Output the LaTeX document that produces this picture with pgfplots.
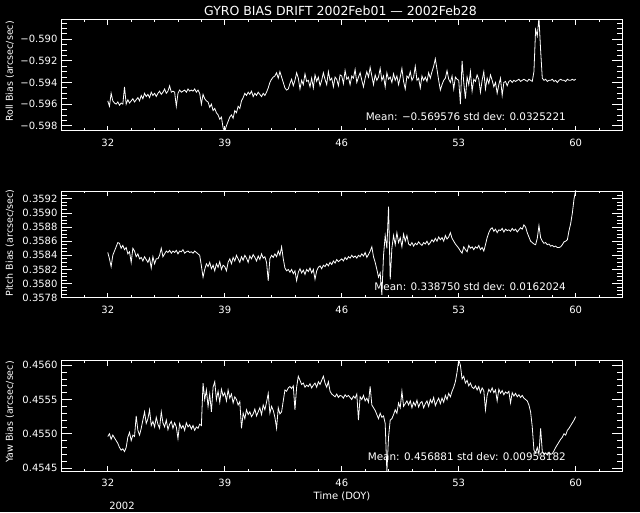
\documentclass[border=0pt]{standalone}
\usepackage{fontspec}
\setmainfont{DejaVu Sans}
\usepackage{pgfplots}
\pgfplotsset{compat=1.18}
\pgfplotsset{
  idl/.style={
    scale only axis, width=561.5pt, xmin=29.2, xmax=62.8,
    anchor=south west,
    xtick={32,39,46,53,60}, xticklabels={32,39,46,53,60},
    minor xtick={30.6,32.0,...,61.5},
    axis line style={white, line width=0.8pt},
    xtick style={white, line width=0.8pt, /pgfplots/major tick length=5pt, /pgfplots/minor tick length=2.5pt},
    ytick style={white, line width=0.8pt, /pgfplots/major tick length=11pt, /pgfplots/minor tick length=6pt},
    tick align=inside,
    ticklabel style={text=white, font=\fontsize{10}{12}\selectfont},
    xticklabel style={yshift=-5pt},
    scaled ticks=false,
  },
  dat/.style={white, line width=0.8pt, mark=none},
}
\begin{document}
\begin{tikzpicture}
\fill[black] (0,0) rectangle (640pt,512pt);

% ---------------- Roll ----------------
\begin{axis}[idl, at={(61pt,381.3pt)}, height=111pt,
  ymin=-0.59846, ymax=-0.58819,
  ytick={-0.598,-0.596,-0.594,-0.592,-0.590},
  yticklabels={−0.598,−0.596,−0.594,−0.592,−0.590},
  minor ytick={-0.5980,-0.5975,...,-0.5884}]
\addplot[dat] coordinates {
(32.0,-0.5957)(32.1,-0.5962)(32.2,-0.5950)(32.3,-0.5957)(32.4,-0.5959)(32.5,-0.5960)(32.6,-0.5958)(32.7,-0.5961)(32.8,-0.5959)(32.9,-0.5960)
(33.0,-0.5944)(33.1,-0.5960)(33.2,-0.5956)(33.3,-0.5959)(33.4,-0.5957)(33.5,-0.5955)(33.6,-0.5958)(33.7,-0.5956)(33.8,-0.5954)(33.9,-0.5957)
(34.0,-0.5952)(34.1,-0.5955)(34.2,-0.5950)(34.3,-0.5953)(34.4,-0.5951)(34.5,-0.5954)(34.6,-0.5949)(34.7,-0.5952)(34.8,-0.5950)(34.9,-0.5953)
(35.0,-0.5950)(35.1,-0.5948)(35.2,-0.5951)(35.3,-0.5949)(35.4,-0.5946)(35.5,-0.5950)(35.6,-0.5948)(35.7,-0.5943)(35.8,-0.5949)(35.9,-0.5948)
(36.0,-0.5949)(36.1,-0.5962)(36.2,-0.5950)(36.3,-0.5947)(36.4,-0.5949)(36.5,-0.5948)(36.6,-0.5947)(36.7,-0.5949)(36.8,-0.5946)(36.9,-0.5948)
(37.0,-0.5947)(37.1,-0.5948)(37.2,-0.5946)(37.3,-0.5949)(37.4,-0.5947)(37.5,-0.5950)(37.6,-0.5960)(37.7,-0.5951)(37.8,-0.5955)(37.9,-0.5957)
(38.0,-0.5958)(38.1,-0.5963)(38.2,-0.5960)(38.3,-0.5966)(38.4,-0.5964)(38.5,-0.5968)(38.6,-0.5970)(38.7,-0.5974)(38.8,-0.5972)(38.9,-0.5982)
(39.0,-0.5985)(39.1,-0.5980)(39.2,-0.5976)(39.3,-0.5972)(39.4,-0.5970)(39.5,-0.5973)(39.6,-0.5966)(39.7,-0.5968)(39.8,-0.5962)(39.9,-0.5964)
(40.0,-0.5957)(40.1,-0.5954)(40.2,-0.5950)(40.3,-0.5952)(40.4,-0.5949)(40.5,-0.5951)(40.6,-0.5948)(40.7,-0.5953)(40.8,-0.5950)(40.9,-0.5952)
(41.0,-0.5949)(41.1,-0.5951)(41.2,-0.5953)(41.3,-0.5950)(41.4,-0.5952)(41.5,-0.5949)(41.6,-0.5945)(41.7,-0.5940)(41.8,-0.5937)(41.9,-0.5935)
(42.0,-0.5934)(42.1,-0.5931)(42.2,-0.5936)(42.3,-0.5930)(42.4,-0.5935)(42.5,-0.5940)(42.6,-0.5945)(42.7,-0.5947)(42.8,-0.5946)(42.9,-0.5941)
(43.0,-0.5937)(43.1,-0.5943)(43.2,-0.5938)(43.3,-0.5931)(43.4,-0.5936)(43.5,-0.5946)(43.6,-0.5938)(43.7,-0.5942)(43.8,-0.5932)(43.9,-0.5939)
(44.0,-0.5938)(44.1,-0.5944)(44.2,-0.5936)(44.3,-0.5945)(44.4,-0.5933)(44.5,-0.5939)(44.6,-0.5935)(44.7,-0.5943)(44.8,-0.5938)(44.9,-0.5931)
(45.0,-0.5937)(45.1,-0.5942)(45.2,-0.5930)(45.3,-0.5938)(45.4,-0.5936)(45.5,-0.5944)(45.6,-0.5935)(45.7,-0.5937)(45.8,-0.5943)(45.9,-0.5933)
(46.0,-0.5934)(46.1,-0.5941)(46.2,-0.5929)(46.3,-0.5937)(46.4,-0.5935)(46.5,-0.5942)(46.6,-0.5934)(46.7,-0.5936)(46.8,-0.5928)(46.9,-0.5940)
(47.0,-0.5935)(47.1,-0.5931)(47.2,-0.5938)(47.3,-0.5944)(47.4,-0.5936)(47.5,-0.5930)(47.6,-0.5935)(47.7,-0.5926)(47.8,-0.5934)(47.9,-0.5942)
(48.0,-0.5933)(48.1,-0.5938)(48.2,-0.5935)(48.3,-0.5927)(48.4,-0.5938)(48.5,-0.5934)(48.6,-0.5944)(48.7,-0.5931)(48.8,-0.5937)(48.9,-0.5935)
(49.0,-0.5940)(49.1,-0.5932)(49.2,-0.5938)(49.3,-0.5934)(49.4,-0.5942)(49.5,-0.5935)(49.6,-0.5927)(49.7,-0.5939)(49.8,-0.5946)(49.9,-0.5934)
(50.0,-0.5936)(50.1,-0.5930)(50.2,-0.5938)(50.3,-0.5935)(50.4,-0.5925)(50.5,-0.5938)(50.6,-0.5936)(50.7,-0.5945)(50.8,-0.5934)(50.9,-0.5938)
(51.0,-0.5935)(51.1,-0.5939)(51.2,-0.5931)(51.3,-0.5936)(51.4,-0.5930)(51.5,-0.5925)(51.6,-0.5918)(51.7,-0.5928)(51.8,-0.5938)(51.9,-0.5947)
(52.0,-0.5942)(52.1,-0.5938)(52.2,-0.5936)(52.3,-0.5929)(52.4,-0.5937)(52.5,-0.5940)(52.6,-0.5934)(52.7,-0.5946)(52.8,-0.5935)(52.9,-0.5937)
(53.0,-0.5938)(53.1,-0.5960)(53.2,-0.5920)(53.3,-0.5940)(53.4,-0.5955)(53.5,-0.5935)(53.6,-0.5942)(53.7,-0.5930)(53.8,-0.5948)(53.9,-0.5937)
(54.0,-0.5939)(54.1,-0.5933)(54.2,-0.5937)(54.3,-0.5949)(54.4,-0.5938)(54.5,-0.5930)(54.6,-0.5946)(54.7,-0.5936)(54.8,-0.5941)(54.9,-0.5933)
(55.0,-0.5938)(55.1,-0.5944)(55.2,-0.5940)(55.3,-0.5950)(55.4,-0.5942)(55.5,-0.5936)(55.6,-0.5952)(55.7,-0.5940)(55.8,-0.5939)(55.9,-0.5943)
(56.0,-0.5939)(56.1,-0.5938)(56.2,-0.5940)(56.3,-0.5938)(56.4,-0.5939)(56.5,-0.5938)(56.6,-0.5937)(56.7,-0.5939)(56.8,-0.5938)(56.9,-0.5937)
(57.0,-0.5938)(57.1,-0.5939)(57.2,-0.5937)(57.3,-0.5938)(57.4,-0.5939)(57.5,-0.5930)(57.6,-0.5891)(57.7,-0.5897)(57.8,-0.5880)(57.9,-0.5910)
(58.0,-0.5936)(58.1,-0.5938)(58.2,-0.5937)(58.3,-0.5939)(58.4,-0.5938)(58.5,-0.5938)(58.6,-0.5937)(58.7,-0.5939)(58.8,-0.5938)(58.9,-0.5940)
(59.0,-0.5938)(59.1,-0.5937)(59.2,-0.5938)(59.3,-0.5938)(59.4,-0.5939)(59.5,-0.5937)(59.6,-0.5938)(59.7,-0.5938)(59.8,-0.5937)(59.9,-0.5938)
(60.0,-0.5937)};
\end{axis}

% ---------------- Pitch ----------------
\begin{axis}[idl, at={(61pt,214.3pt)}, height=106.7pt,
  ymin=0.3578, ymax=0.35931,
  ytick={0.3578,0.3580,0.3582,0.3584,0.3586,0.3588,0.3590,0.3592},
  yticklabels={0.3578,0.3580,0.3582,0.3584,0.3586,0.3588,0.3590,0.3592},
  minor ytick={0.35780,0.35785,...,0.35931}]
\addplot[dat] coordinates {
(32.0,0.35844)(32.1,0.35835)(32.2,0.35824)(32.3,0.35840)(32.4,0.35846)(32.5,0.35852)(32.6,0.35858)(32.7,0.35857)(32.8,0.35850)(32.9,0.35854)
(33.0,0.35848)(33.1,0.35851)(33.2,0.35842)(33.3,0.35845)(33.4,0.35830)(33.5,0.35850)(33.6,0.35846)(33.7,0.35838)(33.8,0.35842)(33.9,0.35835)
(34.0,0.35837)(34.1,0.35832)(34.2,0.35838)(34.3,0.35834)(34.4,0.35830)(34.5,0.35836)(34.6,0.35822)(34.7,0.35838)(34.8,0.35828)(34.9,0.35835)
(35.0,0.35835)(35.1,0.35840)(35.2,0.35850)(35.3,0.35838)(35.4,0.35842)(35.5,0.35846)(35.6,0.35844)(35.7,0.35847)(35.8,0.35843)(35.9,0.35846)
(36.0,0.35844)(36.1,0.35847)(36.2,0.35842)(36.3,0.35846)(36.4,0.35845)(36.5,0.35848)(36.6,0.35843)(36.7,0.35845)(36.8,0.35846)(36.9,0.35844)
(37.0,0.35845)(37.1,0.35843)(37.2,0.35846)(37.3,0.35844)(37.4,0.35842)(37.5,0.35840)(37.6,0.35825)(37.7,0.35809)(37.8,0.35820)(37.9,0.35828)
(38.0,0.35824)(38.1,0.35830)(38.2,0.35821)(38.3,0.35826)(38.4,0.35818)(38.5,0.35828)(38.6,0.35823)(38.7,0.35831)(38.8,0.35820)(38.9,0.35826)
(39.0,0.35824)(39.1,0.35818)(39.2,0.35830)(39.3,0.35835)(39.4,0.35828)(39.5,0.35837)(39.6,0.35832)(39.7,0.35840)(39.8,0.35835)(39.9,0.35830)
(40.0,0.35838)(40.1,0.35833)(40.2,0.35840)(40.3,0.35836)(40.4,0.35830)(40.5,0.35839)(40.6,0.35835)(40.7,0.35841)(40.8,0.35837)(40.9,0.35832)
(41.0,0.35839)(41.1,0.35834)(41.2,0.35842)(41.3,0.35836)(41.4,0.35838)(41.5,0.35830)(41.6,0.35804)(41.7,0.35835)(41.8,0.35840)(41.9,0.35837)
(42.0,0.35842)(42.1,0.35838)(42.2,0.35846)(42.3,0.35840)(42.4,0.35852)(42.5,0.35835)(42.6,0.35822)(42.7,0.35818)(42.8,0.35820)(42.9,0.35816)
(43.0,0.35820)(43.1,0.35814)(43.2,0.35818)(43.3,0.35804)(43.4,0.35816)(43.5,0.35821)(43.6,0.35815)(43.7,0.35819)(43.8,0.35813)(43.9,0.35820)
(44.0,0.35817)(44.1,0.35822)(44.2,0.35815)(44.3,0.35820)(44.4,0.35806)(44.5,0.35818)(44.6,0.35823)(44.7,0.35825)(44.8,0.35821)(44.9,0.35826)
(45.0,0.35824)(45.1,0.35828)(45.2,0.35825)(45.3,0.35830)(45.4,0.35827)(45.5,0.35832)(45.6,0.35829)(45.7,0.35834)(45.8,0.35831)(45.9,0.35833)
(46.0,0.35835)(46.1,0.35832)(46.2,0.35837)(46.3,0.35834)(46.4,0.35838)(46.5,0.35836)(46.6,0.35840)(46.7,0.35837)(46.8,0.35839)(46.9,0.35836)
(47.0,0.35840)(47.1,0.35838)(47.2,0.35842)(47.3,0.35839)(47.4,0.35844)(47.5,0.35837)(47.6,0.35841)(47.7,0.35846)(47.8,0.35852)(47.9,0.35838)
(48.0,0.35830)(48.1,0.35820)(48.2,0.35809)(48.3,0.35815)(48.4,0.35784)(48.5,0.35840)(48.6,0.35868)(48.7,0.35850)(48.8,0.35909)(48.9,0.35806)
(49.0,0.35850)(49.1,0.35868)(49.2,0.35855)(49.3,0.35872)(49.4,0.35858)(49.5,0.35865)(49.6,0.35852)(49.7,0.35870)(49.8,0.35860)(49.9,0.35868)
(50.0,0.35856)(50.1,0.35854)(50.2,0.35858)(50.3,0.35853)(50.4,0.35857)(50.5,0.35855)(50.6,0.35859)(50.7,0.35856)(50.8,0.35854)(50.9,0.35858)
(51.0,0.35856)(51.1,0.35860)(51.2,0.35855)(51.3,0.35858)(51.4,0.35862)(51.5,0.35859)(51.6,0.35864)(51.7,0.35860)(51.8,0.35866)(51.9,0.35862)
(52.0,0.35865)(52.1,0.35860)(52.2,0.35868)(52.3,0.35863)(52.4,0.35866)(52.5,0.35872)(52.6,0.35864)(52.7,0.35860)(52.8,0.35856)(52.9,0.35853)
(53.0,0.35850)(53.1,0.35846)(53.2,0.35843)(53.3,0.35852)(53.4,0.35848)(53.5,0.35845)(53.6,0.35854)(53.7,0.35850)(53.8,0.35852)(53.9,0.35848)
(54.0,0.35852)(54.1,0.35850)(54.2,0.35854)(54.3,0.35848)(54.4,0.35851)(54.5,0.35846)(54.6,0.35855)(54.7,0.35865)(54.8,0.35872)(54.9,0.35877)
(55.0,0.35879)(55.1,0.35874)(55.2,0.35877)(55.3,0.35872)(55.4,0.35876)(55.5,0.35875)(55.6,0.35878)(55.7,0.35873)(55.8,0.35877)(55.9,0.35875)
(56.0,0.35876)(56.1,0.35874)(56.2,0.35878)(56.3,0.35875)(56.4,0.35877)(56.5,0.35873)(56.6,0.35876)(56.7,0.35879)(56.8,0.35877)(56.9,0.35883)
(57.0,0.35880)(57.1,0.35872)(57.2,0.35866)(57.3,0.35860)(57.4,0.35858)(57.5,0.35856)(57.6,0.35855)(57.7,0.35864)(57.8,0.35882)(57.9,0.35865)
(58.0,0.35860)(58.1,0.35857)(58.2,0.35858)(58.3,0.35855)(58.4,0.35856)(58.5,0.35853)(58.6,0.35854)(58.7,0.35852)(58.8,0.35853)(58.9,0.35851)
(59.0,0.35851)(59.1,0.35852)(59.2,0.35855)(59.3,0.35859)(59.4,0.35860)(59.5,0.35862)(59.6,0.35875)(59.7,0.35885)(59.8,0.35900)(59.9,0.35920)
(60.0,0.35932)};
\end{axis}

% ---------------- Yaw ----------------
\begin{axis}[idl, at={(61pt,41pt)}, height=110.3pt,
  ymin=0.454456, ymax=0.456067,
  ytick={0.4545,0.4550,0.4555,0.4560},
  yticklabels={0.4545,0.4550,0.4555,0.4560},
  minor ytick={0.4545,0.4546,...,0.45605}]
\addplot[dat] coordinates {
(32.0,0.45496)(32.1,0.45500)(32.2,0.45492)(32.3,0.45498)(32.4,0.45494)(32.5,0.45490)(32.6,0.45486)(32.7,0.45480)(32.8,0.45476)(32.9,0.45478)
(33.0,0.45474)(33.1,0.45480)(33.2,0.45495)(33.3,0.45502)(33.4,0.45490)(33.5,0.45498)(33.6,0.45496)(33.7,0.45526)(33.8,0.45505)(33.9,0.45498)
(34.0,0.45508)(34.1,0.45520)(34.2,0.45532)(34.3,0.45515)(34.4,0.45522)(34.5,0.45535)(34.6,0.45512)(34.7,0.45518)(34.8,0.45510)(34.9,0.45524)
(35.0,0.45514)(35.1,0.45508)(35.2,0.45532)(35.3,0.45516)(35.4,0.45510)(35.5,0.45520)(35.6,0.45506)(35.7,0.45514)(35.8,0.45518)(35.9,0.45508)
(36.0,0.45516)(36.1,0.45510)(36.2,0.45493)(36.3,0.45515)(36.4,0.45508)(36.5,0.45512)(36.6,0.45505)(36.7,0.45516)(36.8,0.45510)(36.9,0.45513)
(37.0,0.45507)(37.1,0.45512)(37.2,0.45505)(37.3,0.45510)(37.4,0.45508)(37.5,0.45514)(37.6,0.45512)(37.7,0.45574)(37.8,0.45550)(37.9,0.45564)
(38.0,0.45540)(38.1,0.45558)(38.2,0.45532)(38.3,0.45568)(38.4,0.45576)(38.5,0.45550)(38.6,0.45562)(38.7,0.45546)(38.8,0.45565)(38.9,0.45555)
(39.0,0.45560)(39.1,0.45548)(39.2,0.45564)(39.3,0.45552)(39.4,0.45558)(39.5,0.45545)(39.6,0.45554)(39.7,0.45550)(39.8,0.45542)(39.9,0.45547)
(40.0,0.45508)(40.1,0.45530)(40.2,0.45522)(40.3,0.45535)(40.4,0.45528)(40.5,0.45532)(40.6,0.45525)(40.7,0.45529)(40.8,0.45536)(40.9,0.45526)
(41.0,0.45532)(41.1,0.45538)(41.2,0.45528)(41.3,0.45542)(41.4,0.45535)(41.5,0.45546)(41.6,0.45559)(41.7,0.45530)(41.8,0.45540)(41.9,0.45534)
(42.0,0.45524)(42.1,0.45508)(42.2,0.45538)(42.3,0.45529)(42.4,0.45532)(42.5,0.45548)(42.6,0.45564)(42.7,0.45562)(42.8,0.45567)(42.9,0.45569)
(43.0,0.45566)(43.1,0.45570)(43.2,0.45535)(43.3,0.45568)(43.4,0.45584)(43.5,0.45578)(43.6,0.45572)(43.7,0.45574)(43.8,0.45568)(43.9,0.45571)
(44.0,0.45569)(44.1,0.45573)(44.2,0.45567)(44.3,0.45571)(44.4,0.45574)(44.5,0.45568)(44.6,0.45576)(44.7,0.45572)(44.8,0.45578)(44.9,0.45584)
(45.0,0.45574)(45.1,0.45568)(45.2,0.45576)(45.3,0.45562)(45.4,0.45558)(45.5,0.45556)(45.6,0.45554)(45.7,0.45558)(45.8,0.45553)(45.9,0.45556)
(46.0,0.45555)(46.1,0.45552)(46.2,0.45557)(46.3,0.45554)(46.4,0.45556)(46.5,0.45553)(46.6,0.45550)(46.7,0.45555)(46.8,0.45552)(46.9,0.45558)
(47.0,0.45520)(47.1,0.45554)(47.2,0.45550)(47.3,0.45556)(47.4,0.45548)(47.5,0.45552)(47.6,0.45546)(47.7,0.45569)(47.8,0.45542)(47.9,0.45538)
(48.0,0.45534)(48.1,0.45528)(48.2,0.45522)(48.3,0.45530)(48.4,0.45524)(48.5,0.45526)(48.6,0.45515)(48.7,0.45444)(48.8,0.45495)(48.9,0.45520)
(49.0,0.45522)(49.1,0.45528)(49.2,0.45535)(49.3,0.45530)(49.4,0.45545)(49.5,0.45538)(49.6,0.45562)(49.7,0.45540)(49.8,0.45544)(49.9,0.45548)
(50.0,0.45542)(50.1,0.45548)(50.2,0.45538)(50.3,0.45546)(50.4,0.45541)(50.5,0.45549)(50.6,0.45539)(50.7,0.45545)(50.8,0.45547)(50.9,0.45538)
(51.0,0.45544)(51.1,0.45548)(51.2,0.45540)(51.3,0.45550)(51.4,0.45545)(51.5,0.45553)(51.6,0.45541)(51.7,0.45547)(51.8,0.45552)(51.9,0.45544)
(52.0,0.45552)(52.1,0.45546)(52.2,0.45556)(52.3,0.45550)(52.4,0.45559)(52.5,0.45554)(52.6,0.45562)(52.7,0.45568)(52.8,0.45576)(52.9,0.45590)
(53.0,0.45608)(53.1,0.45600)(53.2,0.45580)(53.3,0.45584)(53.4,0.45574)(53.5,0.45578)(53.6,0.45570)(53.7,0.45574)(53.8,0.45568)(53.9,0.45566)
(54.0,0.45570)(54.1,0.45564)(54.2,0.45569)(54.3,0.45560)(54.4,0.45567)(54.5,0.45563)(54.6,0.45535)(54.7,0.45556)(54.8,0.45565)(54.9,0.45561)
(55.0,0.45567)(55.1,0.45560)(55.2,0.45564)(55.3,0.45548)(55.4,0.45565)(55.5,0.45559)(55.6,0.45563)(55.7,0.45557)(55.8,0.45561)(55.9,0.45559)
(56.0,0.45562)(56.1,0.45545)(56.2,0.45560)(56.3,0.45555)(56.4,0.45559)(56.5,0.45554)(56.6,0.45557)(56.7,0.45553)(56.8,0.45556)(56.9,0.45552)
(57.0,0.45550)(57.1,0.45548)(57.2,0.45542)(57.3,0.45532)(57.4,0.45510)(57.5,0.45476)(57.6,0.45472)(57.7,0.45480)(57.8,0.45470)(57.9,0.45508)
(58.0,0.45474)(58.1,0.45470)(58.2,0.45472)(58.3,0.45469)(58.4,0.45473)(58.5,0.45470)(58.6,0.45471)(58.7,0.45475)(58.8,0.45480)(58.9,0.45484)
(59.0,0.45488)(59.1,0.45492)(59.2,0.45495)(59.3,0.45500)(59.4,0.45498)(59.5,0.45505)(59.6,0.45508)(59.7,0.45512)(59.8,0.45516)(59.9,0.45520)
(60.0,0.45525)};
\end{axis}

% ---------------- Texts ----------------
\begin{scope}[every node/.style={text=white, inner sep=0pt}]
\node[font=\fontsize{12.5}{14}\selectfont] at (340.5pt,501pt) {GYRO BIAS DRIFT 2002Feb01 — 2002Feb28};
\node[rotate=90, font=\fontsize{9.5}{11}\selectfont] at (10pt,440.5pt) {Roll Bias (arcsec/sec)};
\node[rotate=90, font=\fontsize{9.5}{11}\selectfont] at (10pt,269pt) {Pitch Bias (arcsec/sec)};
\node[rotate=90, font=\fontsize{9.5}{11}\selectfont] at (10pt,100pt) {Yaw Bias (arcsec/sec)};
\node[anchor=east, font=\fontsize{10.4}{12}\selectfont] at (566pt,395pt) {Mean: −0.569576 std dev: 0.0325221};
\node[anchor=east, font=\fontsize{10.4}{12}\selectfont] at (566pt,225pt) {Mean: 0.338750 std dev: 0.0162024};
\node[anchor=east, font=\fontsize{10.4}{12}\selectfont] at (566pt,55.3pt) {Mean: 0.456881 std dev: 0.00958182};
\node[font=\fontsize{10}{12}\selectfont] at (342pt,15.5pt) {Time (DOY)};
\node[font=\fontsize{10}{12}\selectfont] at (122pt,5.8pt) {2002};
\end{scope}
\pgfresetboundingbox
\useasboundingbox (0,0) rectangle (640pt,512pt);
\end{tikzpicture}
\end{document}
